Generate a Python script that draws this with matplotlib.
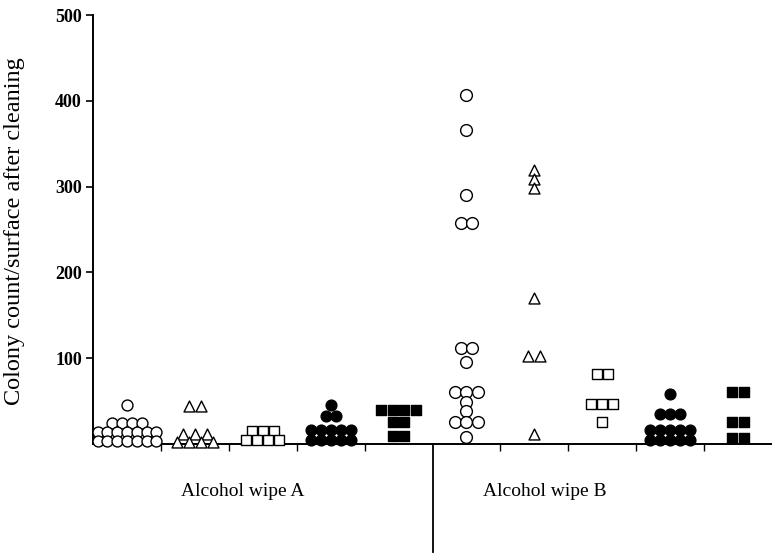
import matplotlib.pyplot as plt
import matplotlib.transforms as mtransforms
import numpy as np
from collections import Counter

# Colony counts, one list per column (left to right)
a_open_circle = [45] + [24] * 4 + [14] * 7 + [3] * 7
a_open_triangle = [44] * 2 + [12] * 3 + [2] * 4
a_open_square = [15] * 3 + [4] * 4
a_filled_circle = [45] + [33] * 2 + [16] * 5 + [4] * 5
a_filled_square = [39] * 4 + [25] * 2 + [9] * 2

b_open_circle = [407, 366, 290, 258, 258, 112, 112, 95, 61, 61, 61, 49, 38, 25, 25, 25, 8]
b_open_triangle = [319, 309, 298, 170, 103, 103, 12]
b_open_square = [82, 82, 46, 46, 46, 25]
b_filled_circle = [58] + [35] * 3 + [16] * 5 + [5] * 5
b_filled_square = [60, 60, 25, 25, 7, 7]

group_labels = ["Alcohol wipe A", "Alcohol wipe B"]
y_ticks = [100, 200, 300, 400, 500]

columns = [a_open_circle, a_open_triangle, a_open_square, a_filled_circle, a_filled_square,
           b_open_circle, b_open_triangle, b_open_square, b_filled_circle, b_filled_square]

# marker, filled, size (pt^2), side-by-side spacing (px)
styles = [("o", False, 62, 9.8), ("^", False, 62, 12), ("s", False, 62, 11),
          ("o", True, 60, 10), ("s", True, 60, 11.5),
          ("o", False, 72, 11.5), ("^", False, 62, 12), ("s", False, 62, 11),
          ("o", True, 60, 10), ("s", True, 60, 11.5)]

plt.rcParams['font.family'] = ['Liberation Serif', 'DejaVu Serif']

fig = plt.figure(figsize=(7.72, 5.57), dpi=100)
ax = fig.add_axes([0.1205, 0.203, 0.8795, 0.770])

px_per_unit = 0.8795 * 772 / 10

for i, vals in enumerate(columns):
    marker, filled, size, step = styles[i]
    xs, ys = [], []
    for v, n in Counter(vals).items():
        offs = (np.arange(n) - (n - 1) / 2) * step / px_per_unit
        xs.extend(i + 0.5 + offs)
        ys.extend([v] * n)
    ax.scatter(xs, ys, marker=marker, s=size,
               facecolors="black" if filled else "white",
               edgecolors="black", linewidths=1.0, zorder=3, clip_on=False)

ax.set_xlim(0, 10)
ax.set_ylim(0, 500)
ax.spines['top'].set_visible(False)
ax.spines['right'].set_visible(False)
ax.spines['left'].set_linewidth(1.4)
ax.spines['bottom'].set_linewidth(1.4)

ax.set_yticks(y_ticks)
ax.set_yticklabels([str(t) for t in y_ticks], fontsize=13, fontweight='bold')
ax.tick_params(axis='y', direction='out', length=5, width=1.2, pad=3)

ax.set_xticks([1, 2, 3, 4, 6, 7, 8, 9])
ax.set_xticklabels([])
ax.tick_params(axis='x', direction='out', length=5, width=1.0)

ax.set_ylabel("Colony count/surface after cleaning", fontsize=17.5)
ax.yaxis.set_label_coords(-0.100, 0.497)

trans = mtransforms.blended_transform_factory(ax.transData, ax.transAxes)
ax.plot([5, 5], [0, -0.252], color="black", lw=1.3, transform=trans, clip_on=False)
ax.text(2.2, -0.11, group_labels[0], transform=trans, ha="center", va="center", fontsize=14)
ax.text(6.66, -0.11, group_labels[1], transform=trans, ha="center", va="center", fontsize=14)

fig.savefig("out.png", dpi=100)
